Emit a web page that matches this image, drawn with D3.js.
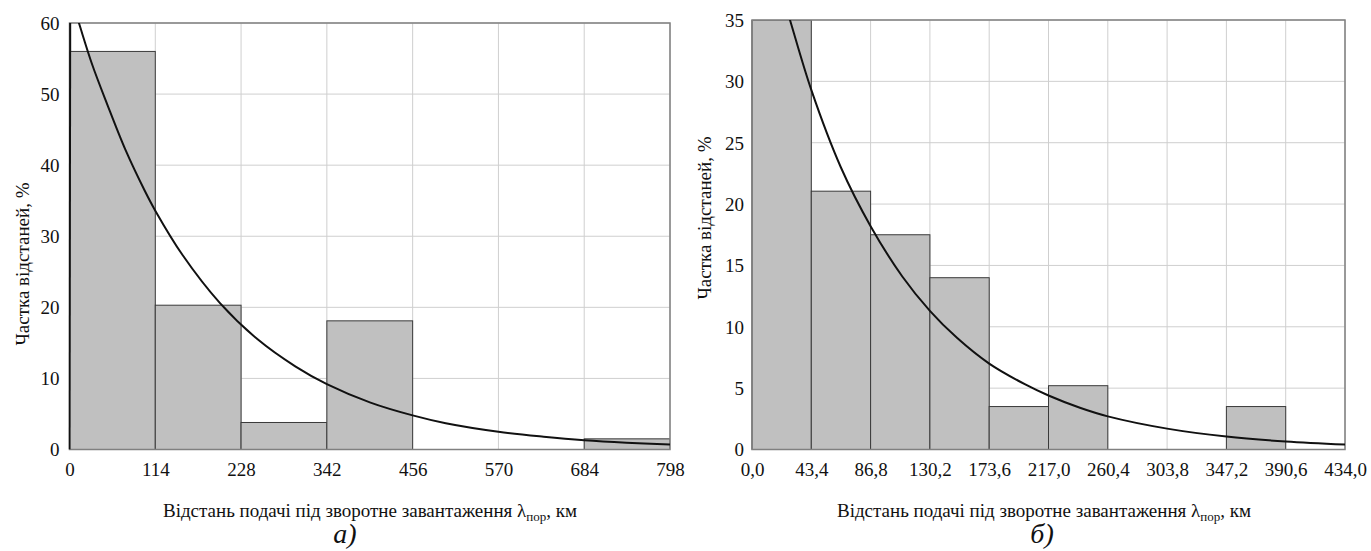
<!DOCTYPE html>
<html lang="uk">
<head>
    <meta charset="UTF-8">
    <title>Частка відстаней подачі під зворотне завантаження</title>
    <script src="https://d3js.org/d3.v7.min.js"></script>
    <style>
        body {
            margin: 0;
            background: white;
        }
        .grid line {
            stroke: #cfcfcf;
            stroke-width: 1;
        }
        .bar {
            fill: #c0c0c0;
            stroke: #3a3a3a;
            stroke-width: 1;
        }
        .frame {
            fill: none;
            stroke: #808080;
            stroke-width: 1.5;
        }
        .curve {
            fill: none;
            stroke: #111;
            stroke-width: 2;
        }
    </style>
</head>
<body>
<svg id="chart" width="1371" height="551"></svg>
<script>
    const FONT = "'Times New Roman', 'Liberation Serif', 'DejaVu Serif', serif";

    // --- дані (а) ---
    const binsA = [0, 114, 228, 342, 456, 570, 684, 798];
    const shareA = [56.0, 20.3, 3.8, 18.1, 0, 0, 1.5];
    const yTicksA = [0, 10, 20, 30, 40, 50, 60];
    // точки кривої [км, %]
    const curveA = [
        [0, 0], [1, 64.0], [14, 59.5], [30, 54.2], [50, 48.6], [75, 42.0],
        [100, 36.4], [114, 33.6], [150, 27.4], [200, 20.6], [250, 15.5],
        [300, 11.7], [342, 9.2], [400, 6.6], [456, 4.8], [500, 3.7],
        [570, 2.5], [630, 1.8], [684, 1.3], [740, 0.95], [798, 0.7]
    ];

    // --- дані (б) ---
    const binsB = [0, 43.4, 86.8, 130.2, 173.6, 217.0, 260.4, 303.8, 347.2, 390.6, 434.0];
    const shareB = [35.0, 21.05, 17.5, 14.0, 3.5, 5.2, 0, 0, 3.5, 0];
    const yTicksB = [0, 5, 10, 15, 20, 25, 30, 35];
    const curveB = [
        [0, 47.3], [20, 37.9], [27.8, 35.0], [43.4, 29.3], [65, 23.0],
        [86.8, 18.2], [110, 14.1], [130.2, 11.3], [150, 9.1], [173.6, 7.0],
        [200, 5.3], [217, 4.4], [240, 3.4], [260.4, 2.7], [303.8, 1.7],
        [347.2, 1.05], [390.6, 0.65], [434.0, 0.4]
    ];

    const xTitle = "Відстань подачі під зворотне завантаження ";
    const yTitle = "Частка відстаней, %";

    const svg = d3.select("#chart").style("font-family", FONT);

    function drawPanel(opt) {
        const g = svg.append("g");
        const x = d3.scaleLinear().domain([opt.bins[0], opt.bins[opt.bins.length - 1]]).range([opt.left, opt.right]);
        const y = d3.scaleLinear().domain([0, opt.yMax]).range([opt.bottom, opt.top]);

        const clipId = "clip-" + opt.id;
        svg.append("clipPath").attr("id", clipId)
            .append("rect")
            .attr("x", opt.left - 1).attr("y", opt.top)
            .attr("width", opt.right - opt.left + 1).attr("height", opt.bottom - opt.top);

        // сітка
        const grid = g.append("g").attr("class", "grid");
        grid.selectAll(".gx").data(opt.bins).join("line")
            .attr("x1", d => x(d)).attr("x2", d => x(d))
            .attr("y1", opt.top).attr("y2", opt.bottom);
        grid.selectAll(".gy").data(opt.yTicks).join("line")
            .attr("x1", opt.left).attr("x2", opt.right)
            .attr("y1", d => y(d)).attr("y2", d => y(d));

        // стовпці гістограми
        const bars = opt.share.map((v, i) => ({x0: opt.bins[i], x1: opt.bins[i + 1], v}))
            .filter(d => d.v > 0);
        g.append("g").attr("clip-path", `url(#${clipId})`)
            .selectAll("rect").data(bars).join("rect")
            .attr("class", "bar")
            .attr("x", d => x(d.x0))
            .attr("width", d => x(d.x1) - x(d.x0))
            .attr("y", d => y(d.v))
            .attr("height", d => y(0) - y(d.v));

        // рамка
        g.append("rect").attr("class", "frame")
            .attr("x", opt.left).attr("y", opt.top)
            .attr("width", opt.right - opt.left).attr("height", opt.bottom - opt.top);

        // крива: початковий підйом (якщо є) прямою, далі згладжена
        const smooth = d3.line().x(d => x(d[0])).y(d => y(d[1])).curve(d3.curveCatmullRom.alpha(0.5));
        const straight = d3.line().x(d => x(d[0])).y(d => y(d[1]));
        const start = opt.curve[0][1] === 0 ? 1 : 0;
        const cg = g.append("g").attr("clip-path", `url(#${clipId})`);
        if (start) {
            cg.append("path").attr("class", "curve").attr("d", straight(opt.curve.slice(0, 2)));
        }
        cg.append("path").attr("class", "curve").attr("d", smooth(opt.curve.slice(start)));

        // осі
        const xAxis = g.append("g")
            .attr("transform", `translate(0,${opt.bottom})`)
            .call(d3.axisBottom(x).tickValues(opt.bins).tickSize(0).tickPadding(13)
                .tickFormat(opt.fmt));
        const yAxis = g.append("g")
            .attr("transform", `translate(${opt.left},0)`)
            .call(d3.axisLeft(y).tickValues(opt.yTicks).tickSize(0).tickPadding(opt.yPad));
        [xAxis, yAxis].forEach(a => {
            a.attr("font-family", FONT);
            a.select(".domain").remove();
            a.selectAll("text")
                .style("font-family", FONT)
                .style("font-size", "19px").attr("fill", "#111");
        });
        yAxis.selectAll("text").attr("dy", "0.34em");

        // підписи осей
        const t = g.append("text")
            .attr("x", opt.xTitleX).attr("y", 517)
            .attr("text-anchor", "middle")
            .style("font-family", FONT)
            .style("font-size", "19px").attr("fill", "#111");
        t.append("tspan").text(xTitle + "λ");
        t.append("tspan").text("пор").attr("dy", 4).style("font-size", "13px");
        t.append("tspan").text(", км").attr("dy", -4);

        g.append("text")
            .attr("transform", `translate(${opt.yTitleX},${opt.yTitleY}) rotate(-90)`)
            .attr("text-anchor", "middle")
            .style("font-family", FONT)
            .style("font-size", "19px").attr("fill", "#111")
            .text(yTitle);

        g.append("text")
            .attr("x", opt.letterX).attr("y", 543)
            .attr("text-anchor", "middle")
            .style("font-family", FONT)
            .style("font-size", "28px").style("font-style", "italic").attr("fill", "#111")
            .text(opt.letter);
    }

    drawPanel({
        id: "a", bins: binsA, share: shareA, yTicks: yTicksA, yMax: 60, curve: curveA,
        left: 69.5, right: 670, top: 23, bottom: 449.5, yPad: 10,
        fmt: d3.format("d"),
        xTitleX: 370, yTitleX: 29, yTitleY: 264, letterX: 345, letter: "а)"
    });

    drawPanel({
        id: "b", bins: binsB, share: shareB, yTicks: yTicksB, yMax: 35, curve: curveB,
        left: 752, right: 1345, top: 20, bottom: 449.5, yPad: 8,
        fmt: d => d.toFixed(1).replace(".", ","),
        xTitleX: 1044, yTitleX: 711, yTitleY: 218, letterX: 1042, letter: "б)"
    });
</script>
</body>
</html>
